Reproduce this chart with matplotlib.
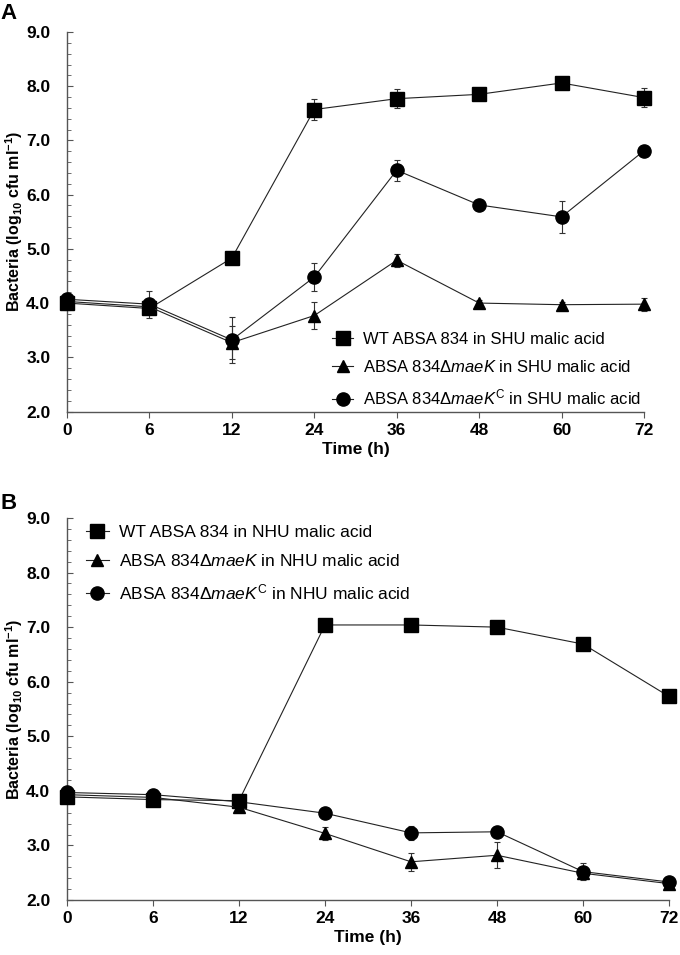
import matplotlib
matplotlib.use("Agg")
import matplotlib.pyplot as plt
from matplotlib.ticker import MultipleLocator
from matplotlib.lines import Line2D
import numpy as np

plt.rcParams['font.family'] = ['Liberation Sans Narrow', 'Liberation Sans', 'DejaVu Sans']
plt.rcParams['mathtext.fontset'] = 'custom'
plt.rcParams['mathtext.rm'] = 'Liberation Sans'
plt.rcParams['mathtext.it'] = 'Liberation Sans:italic'
plt.rcParams['mathtext.bf'] = 'Liberation Sans:bold'

time_labels = ['0', '6', '12', '24', '36', '48', '60', '72']

# Panel A (SHU malic acid)
a_wt = [4.00, 3.90, 4.83, 7.57, 7.77, 7.85, 8.06, 7.79]
a_wt_err = [0.12, 0.10, 0.08, 0.20, 0.18, 0.05, 0.05, 0.17]
a_ko = [4.03, 3.93, 3.27, 3.77, 4.79, 4.00, 3.97, 3.98]
a_ko_err = [0.05, 0.05, 0.30, 0.25, 0.12, 0.05, 0.05, 0.12]
a_comp = [4.07, 3.98, 3.32, 4.48, 6.45, 5.81, 5.59, 6.81]
a_comp_err = [0.05, 0.25, 0.43, 0.26, 0.19, 0.05, 0.30, 0.08]

# Panel B (NHU malic acid)
b_wt = [3.89, 3.84, 3.82, 7.04, 7.04, 7.00, 6.69, 5.73]
b_wt_err = [0.05, 0.05, 0.05, 0.05, 0.05, 0.05, 0.05, 0.05]
b_ko = [3.93, 3.88, 3.70, 3.22, 2.70, 2.82, 2.49, 2.30]
b_ko_err = [0.05, 0.05, 0.05, 0.12, 0.17, 0.24, 0.10, 0.05]
b_comp = [3.97, 3.93, 3.80, 3.59, 3.23, 3.25, 2.52, 2.33]
b_comp_err = [0.05, 0.05, 0.05, 0.05, 0.13, 0.05, 0.16, 0.05]

labels_a = ['WT ABSA 834 in SHU malic acid',
            r'ABSA 834$\Delta$$\it{maeK}$ in SHU malic acid',
            r'ABSA 834$\Delta$$\it{maeK}^{\rm C}$ in SHU malic acid']
labels_b = ['WT ABSA 834 in NHU malic acid',
            r'ABSA 834$\Delta$$\it{maeK}$ in NHU malic acid',
            r'ABSA 834$\Delta$$\it{maeK}^{\rm C}$ in NHU malic acid']

fig = plt.figure(figsize=(6.8, 9.55), dpi=100)
axA = fig.add_axes([67/680, 1-411.5/955, 577/680, 379.5/955])
axB = fig.add_axes([67/680, 1-900/955, 602/680, 382/955])

x = np.arange(len(time_labels))
markers = ['s', '^', 'o']
sizes = [10, 9, 9.5]

def draw(ax, series, labels, bbox, fs, width_px):
    handles = []
    for (vals, errs), m, ms in zip(series, markers, sizes):
        ax.errorbar(x, vals, yerr=errs, color='#222222', lw=0.8,
                    marker=m, markersize=ms, markerfacecolor='black',
                    markeredgecolor='black', ecolor='#333333',
                    elinewidth=0.8, capsize=2.5, capthick=0.8,
                    clip_on=False, zorder=3)
        handles.append(Line2D([], [], color='#222222', lw=0.8, marker=m,
                              markersize=ms, markerfacecolor='black',
                              markeredgecolor='black'))
    ax.set_xlim(0, len(time_labels) - 1)
    ax.set_ylim(2.0, 9.0)
    ax.set_xticks(x)
    ax.set_xticklabels(time_labels)
    ax.yaxis.set_minor_locator(MultipleLocator(0.2))
    ax.set_yticks(np.arange(2.0, 9.01, 1.0))
    ax.set_yticklabels([f'{v:.1f}' for v in np.arange(2.0, 9.01, 1.0)])
    for s in ['top', 'right']:
        ax.spines[s].set_visible(False)
    for s in ['left', 'bottom']:
        ax.spines[s].set_color('#555555')
        ax.spines[s].set_linewidth(1.0)
    ax.tick_params(axis='x', which='major', direction='out', length=4,
                   width=0.8, color='#555555', labelsize=12.5, pad=4)
    ax.tick_params(axis='y', which='major', direction='in', length=4,
                   width=0.8, color='#555555', labelsize=12.5, pad=12)
    ax.tick_params(axis='y', which='minor', direction='in', length=3,
                   width=0.6, color='#555555')
    for lbl in ax.get_xticklabels() + ax.get_yticklabels():
        lbl.set_fontweight('bold')
    ax.set_xlabel('Time (h)', fontsize=12.5, fontweight='bold', labelpad=3)
    ax.set_ylabel(r'Bacteria (log$_{\mathbf{10}}$ cfu ml$^{\mathbf{-1}}$)',
                  fontsize=11.5, fontweight='bold',
                  family=['Liberation Sans', 'DejaVu Sans'])
    ax.yaxis.set_label_coords(-(67 - 25) / width_px, 0.5)
    ax.legend(handles=handles, labels=labels, loc='upper left',
              bbox_to_anchor=bbox, frameon=False, handlelength=1.3,
              handletextpad=0.6, labelspacing=0.75, borderaxespad=0,
              prop={'family': ['Liberation Sans', 'DejaVu Sans'], 'size': fs})

draw(axA, [(a_wt, a_wt_err), (a_ko, a_ko_err), (a_comp, a_comp_err)],
     labels_a, (258/577, 1-293/379.5), 12, 577)
draw(axB, [(b_wt, b_wt_err), (b_ko, b_ko_err), (b_comp, b_comp_err)],
     labels_b, (12/602, 1.0), 12.5, 602)

fig.text(0.0, 1-3/955, 'A', fontsize=16, fontweight='bold', va='top', ha='left',
         family=['Liberation Sans', 'DejaVu Sans'])
fig.text(0.0, 1-493/955, 'B', fontsize=16, fontweight='bold', va='top', ha='left',
         family=['Liberation Sans', 'DejaVu Sans'])

fig.savefig('out.png', dpi=100)
